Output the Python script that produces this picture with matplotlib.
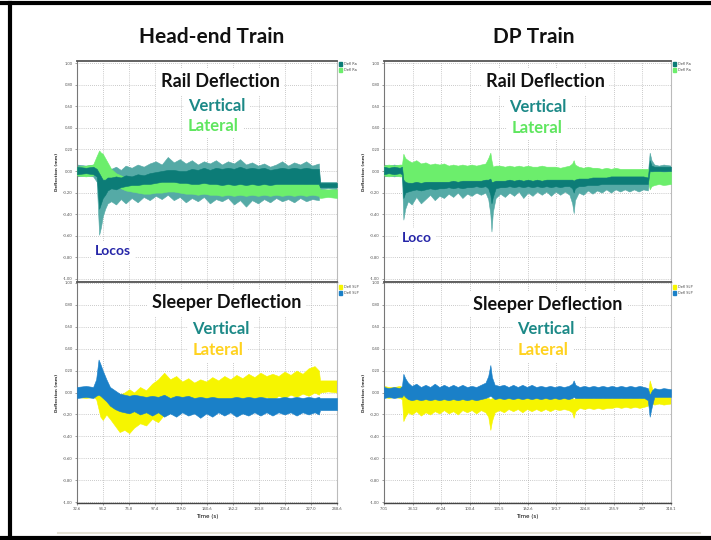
import matplotlib
matplotlib.use('Agg')
import matplotlib.pyplot as plt
from matplotlib.lines import Line2D
from matplotlib.patches import Rectangle

plt.rcParams['font.family'] = ['Lato', 'DejaVu Sans']

COLORS = {
    'vert': '#0c7c77', 'vert_lt': '#55aaa6', 'lat': '#6cee6c',
    'slp_v': '#1a80c8', 'slp_l': '#f6f500',
    'txt_v': '#1c8987', 'txt_lg': '#5fe65f', 'txt_ly': '#ffd21f', 'loco': '#2525a8',
    'grid': '#9a9a9a',
}

# ---- axes ----
Y_TICKS = [1.0, 0.8, 0.6, 0.4, 0.2, 0.0, -0.2, -0.4, -0.6, -0.8, -1.0]
HE_XTICKS = [32.6, 54.2, 75.8, 97.4, 119.0, 140.6, 162.2, 183.8, 205.4, 227.0, 248.6]
DP_XTICKS = [7.01, 38.12, 69.24, 100.4, 131.5, 162.6, 193.7, 224.8, 255.9, 287, 318.1]
DP_XLABELS = ['7.01', '38.12', '69.24', '100.4', '131.5', '162.6', '193.7', '224.8', '255.9', '287', '318.1']

# ---- Head-end train, rail deflection (envelopes, mm) ----
he_rail_t = [32.6, 40, 46, 49, 51, 52.5, 54, 56, 58, 61,
             65, 69, 73, 78, 83, 88, 93, 98, 103, 108,
             113, 118, 123, 128, 133, 138, 143, 148, 153, 158,
             163, 168, 173, 178, 183, 188, 193, 198, 203, 208,
             213, 218, 223, 228, 233.5, 234.5, 241, 248.6]
he_vert_lo = [-0.05, -0.04, -0.05, -0.10, -0.59, -0.52, -0.42, -0.35, -0.30, -0.28,
              -0.31, -0.26, -0.30, -0.25, -0.29, -0.24, -0.27, -0.23, -0.26, -0.22,
              -0.27, -0.24, -0.29, -0.25, -0.28, -0.24, -0.30, -0.26, -0.28, -0.25,
              -0.31, -0.27, -0.33, -0.27, -0.30, -0.26, -0.29, -0.25, -0.28, -0.26,
              -0.29, -0.25, -0.28, -0.26, -0.27, -0.17, -0.16, -0.17]
he_vert_hi = [0.06, 0.05, 0.06, 0.04, 0.02, 0.00, 0.02, 0.00, 0.03, 0.02,
              0.04, 0.01, 0.05, 0.03, 0.06, 0.04, 0.07, 0.09, 0.06, 0.13,
              0.08, 0.11, 0.07, 0.10, 0.06, 0.09, 0.07, 0.10, 0.06, 0.09,
              0.07, 0.11, 0.06, 0.08, 0.05, 0.07, 0.04, 0.06, 0.09, 0.05,
              0.08, 0.06, 0.09, 0.05, 0.07, -0.10, -0.10, -0.10]
he_vcore_lo = [-0.03, -0.02, -0.03, -0.05, -0.35, -0.30, -0.25, -0.22, -0.18, -0.16,
               -0.17, -0.15, -0.14, -0.13, -0.13, -0.12, -0.12, -0.11, -0.10, -0.10,
               -0.10, -0.11, -0.11, -0.12, -0.12, -0.11, -0.12, -0.12, -0.13, -0.12,
               -0.13, -0.12, -0.13, -0.12, -0.13, -0.12, -0.13, -0.12, -0.12, -0.12,
               -0.12, -0.12, -0.12, -0.12, -0.12, -0.15, -0.15, -0.15]
he_vcore_hi = [0.04, 0.03, 0.04, 0.02, -0.02, -0.05, -0.08, -0.08, -0.06, -0.06,
               -0.05, -0.06, -0.04, -0.05, -0.03, -0.04, -0.02, -0.01, 0.00, 0.01,
               0.01, 0.00, 0.00, 0.02, 0.01, 0.03, 0.01, 0.03, 0.02, 0.03,
               0.02, 0.04, 0.02, 0.03, 0.02, 0.03, 0.01, 0.02, 0.03, 0.02,
               0.03, 0.02, 0.03, 0.02, 0.02, -0.11, -0.11, -0.11]
he_lat_lo = [-0.04, -0.05, -0.04, -0.02, -0.05, -0.06, -0.08, -0.08, -0.10, -0.12,
             -0.14, -0.16, -0.18, -0.19, -0.20, -0.21, -0.21, -0.20, -0.20, -0.19,
             -0.19, -0.20, -0.21, -0.21, -0.22, -0.21, -0.22, -0.22, -0.23, -0.22,
             -0.23, -0.22, -0.23, -0.22, -0.23, -0.22, -0.23, -0.22, -0.23, -0.22,
             -0.23, -0.22, -0.23, -0.22, -0.23, -0.25, -0.24, -0.25]
he_lat_hi = [0.04, 0.05, 0.06, 0.14, 0.19, 0.17, 0.16, 0.12, 0.08, 0.02,
             -0.02, -0.04, -0.06, -0.07, -0.08, -0.09, -0.09, -0.09, -0.08, -0.08,
             -0.08, -0.09, -0.09, -0.10, -0.10, -0.10, -0.10, -0.11, -0.11, -0.10,
             -0.11, -0.10, -0.11, -0.10, -0.11, -0.10, -0.11, -0.11, -0.11, -0.11,
             -0.11, -0.11, -0.12, -0.11, -0.12, -0.17, -0.17, -0.17]

# ---- Head-end train, sleeper deflection ----
he_slp_t = [32.6, 40, 46, 48.5, 50.5, 52, 54, 57, 60, 64,
            68, 72, 76, 80, 85, 90, 95, 100, 105, 110,
            115, 120, 125, 130, 135, 140, 145, 150, 155, 160,
            165, 170, 175, 180, 185, 190, 195, 200, 205, 210,
            215, 220, 225, 230, 233.5, 234.5, 241, 248.6]
he_svert_lo = [-0.05, -0.04, -0.05, -0.03, -0.02, -0.03, -0.05, -0.08, -0.12, -0.15,
               -0.17, -0.18, -0.19, -0.17, -0.20, -0.18, -0.21, -0.18, -0.22, -0.19,
               -0.22, -0.18, -0.21, -0.19, -0.23, -0.19, -0.22, -0.18, -0.21, -0.18,
               -0.22, -0.19, -0.21, -0.18, -0.21, -0.18, -0.21, -0.18, -0.20, -0.18,
               -0.21, -0.18, -0.20, -0.18, -0.20, -0.16, -0.16, -0.16]
he_svert_hi = [0.05, 0.06, 0.05, 0.12, 0.30, 0.26, 0.20, 0.12, 0.05, 0.02,
               -0.01, -0.02, -0.03, -0.02, -0.03, -0.04, -0.03, -0.04, -0.02, -0.05,
               -0.03, -0.04, -0.03, -0.05, -0.04, -0.05, -0.04, -0.05, -0.05, -0.05,
               -0.04, -0.05, -0.04, -0.05, -0.04, -0.05, -0.05, -0.05, -0.04, -0.05,
               -0.04, -0.05, -0.04, -0.05, -0.04, -0.05, -0.05, -0.05]
he_slat_lo = [-0.04, -0.05, -0.04, -0.06, -0.15, -0.22, -0.25, -0.20, -0.24, -0.30,
              -0.36, -0.34, -0.37, -0.32, -0.28, -0.30, -0.24, -0.27, -0.20, -0.16,
              -0.14, -0.12, -0.15, -0.10, -0.13, -0.09, -0.12, -0.08, -0.11, -0.07,
              -0.10, -0.06, -0.09, -0.05, -0.08, -0.04, -0.07, -0.03, -0.05, -0.02,
              -0.04, -0.01, -0.03, 0.00, -0.02, 0.00, 0.01, 0.00]
he_slat_hi = [0.04, 0.05, 0.04, 0.03, 0.02, 0.00, -0.02, -0.04, -0.03, -0.03,
              -0.02, 0.00, 0.03, 0.00, 0.05, 0.02, 0.08, 0.12, 0.18, 0.12,
              0.15, 0.10, 0.13, 0.09, 0.12, 0.10, 0.14, 0.11, 0.15, 0.12,
              0.16, 0.13, 0.17, 0.14, 0.18, 0.15, 0.17, 0.15, 0.19, 0.16,
              0.20, 0.17, 0.22, 0.24, 0.20, 0.11, 0.11, 0.11]

# ---- DP train, rail deflection ----
dp_rail_t = [7.0, 12, 18, 24, 26.5, 28, 30, 33, 37, 42,
             47, 52, 57, 62, 67, 72, 77, 82, 87, 92,
             97, 102, 107, 112, 117, 120, 122.3, 123.5, 125, 128,
             133, 138, 143, 148, 153, 158, 163, 168, 173, 178,
             183, 188, 193, 198, 203, 208, 211, 212.6, 214, 218,
             223, 228, 233, 238, 243, 248, 253, 258, 263, 268,
             273, 278, 283, 288, 293, 295, 297, 300, 305, 310,
             318.1]
dp_vert_lo = [-0.05, -0.04, -0.05, -0.04, -0.05, -0.45, -0.35, -0.28, -0.31, -0.24,
              -0.30, -0.26, -0.22, -0.27, -0.23, -0.25, -0.21, -0.24, -0.20, -0.25,
              -0.21, -0.23, -0.20, -0.22, -0.20, -0.26, -0.40, -0.56, -0.38, -0.25,
              -0.21, -0.24, -0.20, -0.23, -0.19, -0.25, -0.20, -0.23, -0.19, -0.22,
              -0.19, -0.23, -0.19, -0.22, -0.19, -0.22, -0.30, -0.39, -0.27, -0.20,
              -0.22, -0.18, -0.21, -0.18, -0.20, -0.17, -0.20, -0.17, -0.19, -0.17,
              -0.19, -0.17, -0.19, -0.17, -0.18, -0.05, -0.03, -0.02, -0.02, -0.02,
              -0.02]
dp_vert_hi = [0.06, 0.05, 0.06, 0.05, 0.05, -0.02, -0.04, -0.06, -0.07, -0.07,
              -0.06, -0.07, -0.08, -0.06, -0.07, -0.06, -0.07, -0.05, -0.06, -0.05,
              -0.04, -0.03, -0.05, -0.04, -0.03, -0.02, 0.00, -0.02, -0.04, -0.05,
              -0.04, -0.04, -0.03, -0.04, -0.03, -0.04, -0.03, -0.04, -0.03, -0.04,
              -0.03, -0.04, -0.03, -0.04, -0.03, -0.04, -0.03, -0.04, -0.03, -0.03,
              -0.02, -0.02, -0.01, -0.02, 0.00, -0.01, 0.00, -0.01, 0.00, -0.01,
              0.00, -0.01, 0.00, -0.01, -0.02, 0.17, 0.10, 0.06, 0.05, 0.06,
              0.05]
dp_vcore_lo = [-0.03, -0.02, -0.03, -0.02, -0.03, -0.25, -0.20, -0.19, -0.18, -0.17,
               -0.18, -0.17, -0.16, -0.17, -0.16, -0.16, -0.15, -0.16, -0.15, -0.16,
               -0.15, -0.15, -0.14, -0.15, -0.14, -0.16, -0.22, -0.30, -0.24, -0.16,
               -0.15, -0.15, -0.14, -0.15, -0.14, -0.15, -0.14, -0.15, -0.14, -0.15,
               -0.14, -0.15, -0.14, -0.15, -0.14, -0.14, -0.16, -0.20, -0.16, -0.14,
               -0.14, -0.13, -0.13, -0.13, -0.12, -0.12, -0.12, -0.12, -0.12, -0.12,
               -0.12, -0.12, -0.12, -0.12, -0.12, 0.00, 0.00, 0.00, 0.00, 0.00,
               0.00]
dp_vcore_hi = [0.04, 0.03, 0.04, 0.03, 0.04, -0.08, -0.10, -0.11, -0.11, -0.10,
               -0.11, -0.10, -0.10, -0.10, -0.10, -0.10, -0.10, -0.09, -0.10, -0.09,
               -0.09, -0.09, -0.09, -0.09, -0.08, -0.08, -0.07, -0.10, -0.10, -0.09,
               -0.09, -0.09, -0.08, -0.09, -0.08, -0.09, -0.08, -0.09, -0.08, -0.09,
               -0.08, -0.08, -0.08, -0.08, -0.08, -0.08, -0.08, -0.09, -0.08, -0.07,
               -0.07, -0.07, -0.06, -0.06, -0.06, -0.06, -0.05, -0.05, -0.05, -0.05,
               -0.05, -0.05, -0.05, -0.05, -0.06, 0.10, 0.05, 0.04, 0.04, 0.04,
               0.04]
dp_lat_lo = [-0.04, -0.05, -0.04, -0.05, -0.05, -0.08, -0.10, -0.10, -0.11, -0.10,
             -0.11, -0.10, -0.10, -0.10, -0.10, -0.10, -0.10, -0.09, -0.10, -0.09,
             -0.09, -0.09, -0.09, -0.09, -0.08, -0.08, -0.07, -0.10, -0.10, -0.09,
             -0.09, -0.09, -0.08, -0.09, -0.08, -0.09, -0.08, -0.09, -0.08, -0.09,
             -0.08, -0.08, -0.08, -0.08, -0.08, -0.08, -0.08, -0.09, -0.08, -0.07,
             -0.08, -0.08, -0.07, -0.08, -0.07, -0.08, -0.07, -0.08, -0.07, -0.08,
             -0.07, -0.08, -0.08, -0.08, -0.08, -0.17, -0.14, -0.13, -0.12, -0.13,
             -0.12]
dp_lat_hi = [0.05, 0.06, 0.05, 0.06, 0.06, 0.16, 0.12, 0.10, 0.08, 0.10,
             0.07, 0.08, 0.06, 0.07, 0.06, 0.07, 0.05, 0.06, 0.05, 0.06,
             0.05, 0.06, 0.05, 0.06, 0.07, 0.12, 0.17, 0.10, 0.04, 0.05,
             0.05, 0.04, 0.05, 0.04, 0.05, 0.04, 0.05, 0.04, 0.04, 0.05,
             0.04, 0.04, 0.04, 0.03, 0.04, 0.05, 0.07, 0.10, 0.06, 0.04,
             0.03, 0.04, 0.03, 0.03, 0.02, 0.03, 0.02, 0.03, 0.02, 0.02,
             0.02, 0.02, 0.02, 0.02, 0.02, 0.00, -0.01, 0.00, 0.00, -0.01,
             0.00]

# ---- DP train, sleeper deflection ----
dp_slp_t = [7.0, 12, 18, 24, 26.5, 28, 30, 33, 37, 42,
            47, 52, 57, 62, 67, 72, 77, 82, 87, 92,
            97, 102, 107, 112, 117, 120, 122.3, 124, 127, 132,
            137, 142, 147, 152, 157, 162, 167, 172, 177, 182,
            187, 192, 197, 202, 207, 211, 212.6, 214.5, 219, 224,
            229, 234, 239, 244, 249, 254, 259, 264, 269, 274,
            279, 284, 289, 293, 295, 297.5, 300, 305, 310, 318.1]
dp_svert_lo = [-0.05, -0.04, -0.05, -0.04, -0.04, -0.02, -0.04, -0.06, -0.07, -0.06,
               -0.07, -0.06, -0.07, -0.06, -0.07, -0.06, -0.07, -0.06, -0.07, -0.06,
               -0.07, -0.06, -0.07, -0.06, -0.05, -0.04, -0.03, -0.04, -0.06, -0.05,
               -0.06, -0.05, -0.06, -0.05, -0.06, -0.05, -0.06, -0.05, -0.06, -0.05,
               -0.06, -0.05, -0.06, -0.05, -0.06, -0.05, -0.04, -0.05, -0.05, -0.05,
               -0.05, -0.05, -0.05, -0.05, -0.05, -0.05, -0.05, -0.05, -0.05, -0.05,
               -0.05, -0.05, -0.05, -0.07, -0.22, -0.12, -0.04, -0.04, -0.04, -0.04]
dp_svert_hi = [0.05, 0.04, 0.05, 0.04, 0.06, 0.17, 0.13, 0.09, 0.06, 0.08,
               0.05, 0.07, 0.05, 0.08, 0.05, 0.07, 0.05, 0.07, 0.05, 0.07,
               0.05, 0.06, 0.05, 0.07, 0.09, 0.15, 0.25, 0.14, 0.07, 0.06,
               0.07, 0.05, 0.07, 0.05, 0.07, 0.05, 0.07, 0.05, 0.06, 0.05,
               0.06, 0.05, 0.06, 0.05, 0.06, 0.08, 0.11, 0.07, 0.05, 0.06,
               0.05, 0.06, 0.05, 0.06, 0.05, 0.06, 0.05, 0.06, 0.05, 0.06,
               0.05, 0.06, 0.05, 0.04, -0.02, 0.02, 0.04, 0.03, 0.04, 0.03]
dp_slat_lo = [-0.04, -0.05, -0.04, -0.05, -0.06, -0.26, -0.22, -0.18, -0.20, -0.17,
              -0.21, -0.18, -0.20, -0.17, -0.19, -0.16, -0.19, -0.17, -0.20, -0.16,
              -0.18, -0.16, -0.19, -0.16, -0.18, -0.22, -0.34, -0.26, -0.18, -0.16,
              -0.18, -0.15, -0.17, -0.15, -0.18, -0.15, -0.17, -0.15, -0.17, -0.15,
              -0.17, -0.15, -0.16, -0.15, -0.16, -0.18, -0.23, -0.17, -0.14, -0.15,
              -0.14, -0.15, -0.14, -0.15, -0.14, -0.14, -0.13, -0.14, -0.13, -0.14,
              -0.13, -0.14, -0.13, -0.12, -0.05, -0.10, -0.11, -0.10, -0.11, -0.10]
dp_slat_hi = [0.06, 0.05, 0.05, 0.06, 0.05, -0.02, -0.03, -0.04, -0.05, -0.04,
              -0.05, -0.04, -0.05, -0.04, -0.05, -0.04, -0.05, -0.04, -0.05, -0.04,
              -0.05, -0.04, -0.05, -0.04, -0.05, -0.05, -0.06, -0.05, -0.05, -0.05,
              -0.05, -0.04, -0.05, -0.04, -0.05, -0.04, -0.05, -0.04, -0.05, -0.04,
              -0.05, -0.04, -0.05, -0.04, -0.05, -0.05, -0.06, -0.05, -0.04, -0.05,
              -0.04, -0.05, -0.04, -0.05, -0.04, -0.05, -0.04, -0.05, -0.04, -0.05,
              -0.04, -0.05, -0.04, -0.03, 0.11, 0.04, -0.02, -0.02, -0.02, -0.02]


def style_axes(ax, xticks, xlabels, ylim, bottom):
    ax.set_xlim(xticks[0], xticks[-1])
    ax.set_ylim(*ylim)
    ax.set_yticks(Y_TICKS)
    ax.set_yticklabels([f'{v:.2f}' for v in Y_TICKS])
    ax.set_xticks(xticks)
    if bottom:
        ax.set_xticklabels(xlabels)
        ax.set_xlabel('Time (s)', fontsize=4, labelpad=2, family='DejaVu Sans')
    else:
        ax.set_xticklabels([])
        ax.tick_params(axis='x', length=0)
    ax.tick_params(labelsize=3, length=1.5, width=0.4, pad=1.5, colors='#555')
    ax.set_ylabel('Deflection (mm)', fontsize=3, fontweight='bold', labelpad=3,
                  family='DejaVu Sans', color='#333')
    ax.grid(True, linestyle=(0, (1, 2)), color=COLORS['grid'], lw=0.5)
    ax.set_axisbelow(True)
    ax.spines['top'].set_color('#555'); ax.spines['top'].set_linewidth(1.3)
    ax.spines['left'].set_color('#777'); ax.spines['left'].set_linewidth(0.8)
    ax.spines['bottom'].set_color('#444'); ax.spines['bottom'].set_linewidth(1.0)
    ax.spines['right'].set_color('#bbb'); ax.spines['right'].set_linewidth(0.8)


def band(ax, t, lo, hi, color, z):
    ax.fill_between(t, lo, hi, color=color, lw=0.4, edgecolor=color, zorder=z)


def label(ax, x, y, s, color, size, ha='center'):
    ax.text(x, y, s, transform=ax.transAxes, ha=ha, va='center', fontsize=size,
            fontweight='bold', color=color, zorder=6,
            bbox=dict(facecolor='white', edgecolor='none', pad=3))


def mini_legend(fig, x, y, entries):
    for i, (c, s) in enumerate(entries):
        yy = y + i * 6
        fig.patches.append(Rectangle((x / 711, 1 - (yy + 2) / 540), 3 / 711, 4 / 540,
                                     transform=fig.transFigure, color=c))
        fig.text((x + 5) / 711, 1 - yy / 540, s, fontsize=2.5, va='center',
                 color='#444', family='DejaVu Sans')


fig = plt.figure(figsize=(7.11, 5.4), dpi=100, facecolor='white')

W = 711; H = 540
def rect(x0, y0, x1, y1):
    return [x0 / W, 1 - y1 / H, (x1 - x0) / W, (y1 - y0) / H]

ax_tl = fig.add_axes(rect(77, 61, 337, 282))
ax_bl = fig.add_axes(rect(77, 282, 337, 503))
ax_tr = fig.add_axes(rect(384, 61, 671, 282))
ax_br = fig.add_axes(rect(384, 282, 671, 503))

TOP_YLIM = (-1.028, 1.019)
BOT_YLIM = (-1.005, 1.005)
style_axes(ax_tl, HE_XTICKS, None, TOP_YLIM, False)
style_axes(ax_bl, HE_XTICKS, [f'{v:.1f}' for v in HE_XTICKS], BOT_YLIM, True)
style_axes(ax_tr, DP_XTICKS, None, TOP_YLIM, False)
style_axes(ax_br, DP_XTICKS, DP_XLABELS, BOT_YLIM, True)

# rail: light teal fringe, green lateral, dark teal core on top
band(ax_tl, he_rail_t, he_vert_lo, he_vert_hi, COLORS['vert_lt'], 2)
band(ax_tl, he_rail_t, he_lat_lo, he_lat_hi, COLORS['lat'], 3)
band(ax_tl, he_rail_t, he_vcore_lo, he_vcore_hi, COLORS['vert'], 4)
band(ax_tr, dp_rail_t, dp_vert_lo, dp_vert_hi, COLORS['vert_lt'], 2)
band(ax_tr, dp_rail_t, dp_lat_lo, dp_lat_hi, COLORS['lat'], 3)
band(ax_tr, dp_rail_t, dp_vcore_lo, dp_vcore_hi, COLORS['vert'], 4)

# sleeper: yellow lateral under blue vertical
band(ax_bl, he_slp_t, he_slat_lo, he_slat_hi, COLORS['slp_l'], 2)
band(ax_bl, he_slp_t, he_svert_lo, he_svert_hi, COLORS['slp_v'], 3)
band(ax_br, dp_slp_t, dp_slat_lo, dp_slat_hi, COLORS['slp_l'], 2)
band(ax_br, dp_slp_t, dp_svert_lo, dp_svert_hi, COLORS['slp_v'], 3)

# annotations
label(ax_tl, 0.55, 0.905, 'Rail Deflection', '#111', 13)
label(ax_tl, 0.538, 0.796, 'Vertical', COLORS['txt_v'], 12)
label(ax_tl, 0.523, 0.706, 'Lateral', COLORS['txt_lg'], 12)
label(ax_tl, 0.069, 0.14, 'Locos', COLORS['loco'], 10, ha='left')

label(ax_bl, 0.577, 0.905, 'Sleeper Deflection', '#111', 13)
label(ax_bl, 0.554, 0.787, 'Vertical', COLORS['txt_v'], 12)
label(ax_bl, 0.542, 0.692, 'Lateral', COLORS['txt_ly'], 12)

label(ax_tr, 0.564, 0.905, 'Rail Deflection', '#111', 13)
label(ax_tr, 0.537, 0.792, 'Vertical', COLORS['txt_v'], 12)
label(ax_tr, 0.533, 0.697, 'Lateral', COLORS['txt_lg'], 12)
label(ax_tr, 0.063, 0.199, 'Loco', COLORS['loco'], 10, ha='left')

label(ax_br, 0.571, 0.90, 'Sleeper Deflection', '#111', 13)
label(ax_br, 0.564, 0.787, 'Vertical', COLORS['txt_v'], 12)
label(ax_br, 0.554, 0.692, 'Lateral', COLORS['txt_ly'], 12)

fig.text(212 / W, 1 - 37 / H, 'Head-end Train', ha='center', va='center',
         fontsize=15, fontweight='bold', color='#111')
fig.text(534 / W, 1 - 37 / H, 'DP Train', ha='center', va='center',
         fontsize=15, fontweight='bold', color='#111')

mini_legend(fig, 339, 64, [(COLORS['vert'], 'Defl Ra'), (COLORS['lat'], 'Defl Ra')])
mini_legend(fig, 673, 64, [(COLORS['vert'], 'Defl Ra'), (COLORS['lat'], 'Defl Ra')])
mini_legend(fig, 339, 287, [(COLORS['slp_l'], 'Defl SLP'), (COLORS['slp_v'], 'Defl SLP')])
mini_legend(fig, 673, 287, [(COLORS['slp_l'], 'Defl SLP'), (COLORS['slp_v'], 'Defl SLP')])

# slide frame
fig.add_artist(Line2D([58 / W, 700 / W], [1 - 533 / H] * 2, color='#e4e1d4', lw=1.5))
fig.add_artist(Line2D([0, 1], [1 - 3 / H] * 2, color='black', lw=3))
fig.add_artist(Line2D([0, 1], [1 - 538 / H] * 2, color='black', lw=3))
fig.add_artist(Line2D([10 / W] * 2, [0, 1 - 3 / H], color='black', lw=3))

fig.savefig('out.png', dpi=100, facecolor='white')
